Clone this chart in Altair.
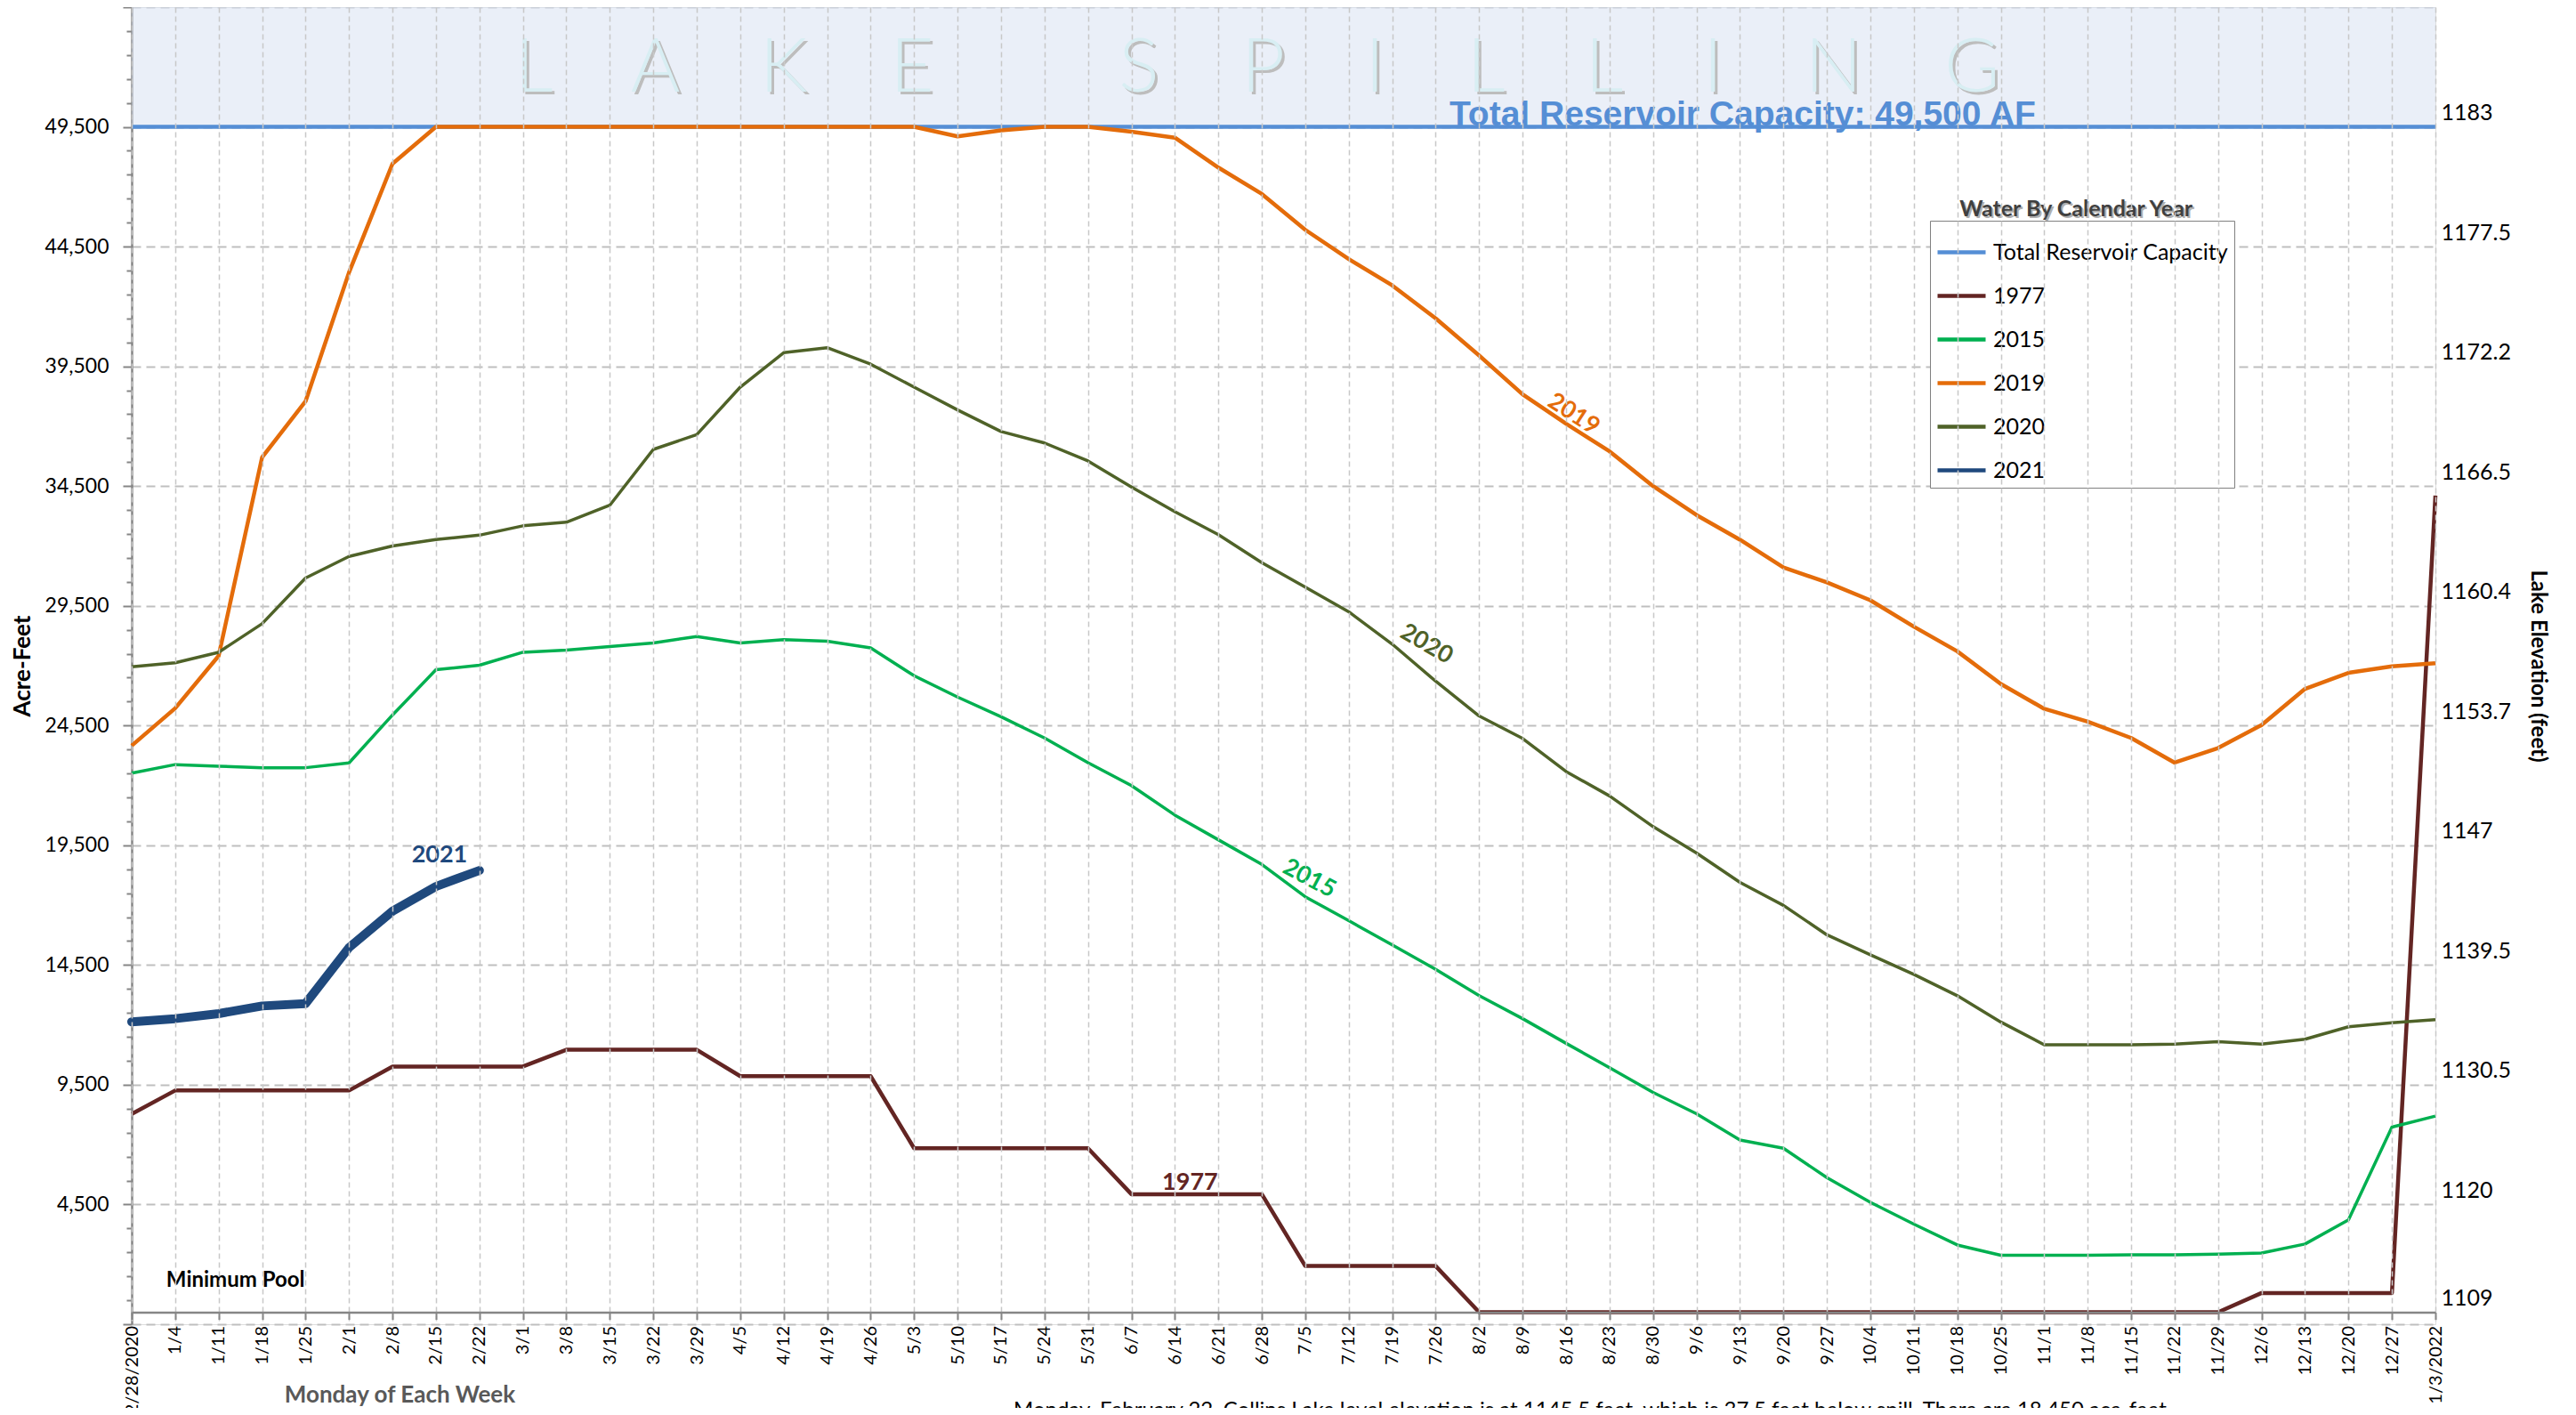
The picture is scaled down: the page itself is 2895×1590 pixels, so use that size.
import altair as alt
import pandas as pd

# ---------------- data ----------------
dates = ["12/28/2020", "1/4", "1/11", "1/18", "1/25", "2/1", "2/8", "2/15", "2/22", "3/1",
         "3/8", "3/15", "3/22", "3/29", "4/5", "4/12", "4/19", "4/26", "5/3", "5/10",
         "5/17", "5/24", "5/31", "6/7", "6/14", "6/21", "6/28", "7/5", "7/12", "7/19",
         "7/26", "8/2", "8/9", "8/16", "8/23", "8/30", "9/6", "9/13", "9/20", "9/27",
         "10/4", "10/11", "10/18", "10/25", "11/1", "11/8", "11/15", "11/22", "11/29", "12/6",
         "12/13", "12/20", "12/27", "1/3/2022"]

capacity_af = 49500

y1977 = [8280, 9260, 9260, 9260, 9260, 9260, 10260, 10260, 10260, 10260,
         10960, 10960, 10960, 10960, 9860, 9860, 9860, 9860, 6850, 6850,
         6850, 6850, 6850, 4930, 4930, 4930, 4930, 1930, 1930, 1930,
         1930, 0, 0, 0, 0, 0, 0, 0, 0, 0,
         0, 0, 0, 0, 0, 0, 0, 0, 0, 805,
         805, 805, 805, 34100]

y2015 = [22510, 22870, 22800, 22740, 22740, 22940, 24940, 26830, 27020, 27560,
         27650, 27800, 27950, 28220, 27950, 28090, 28020, 27740, 26580, 25690,
         24870, 23980, 22950, 21990, 20760, 19730, 18700, 17350, 16350, 15340,
         14320, 13220, 12260, 11230, 10210, 9180, 8290, 7190, 6850, 5620,
         4590, 3680, 2810, 2380, 2380, 2380, 2400, 2400, 2430, 2470,
         2850, 3860, 7730, 8190]

y2019 = [23660, 25220, 27410, 35700, 38040, 43420, 47960, 49500, 49500, 49500,
         49500, 49500, 49500, 49500, 49500, 49500, 49500, 49500, 49500, 49100,
         49350, 49500, 49500, 49300, 49050, 47800, 46700, 45200, 43980, 42880,
         41500, 39950, 38330, 37100, 35950, 34500, 33290, 32260, 31100, 30480,
         29730, 28630, 27600, 26240, 25200, 24660, 23980, 22950, 23560, 24520,
         26030, 26700, 26970, 27100]

y2020 = [26950, 27120, 27560, 28750, 30660, 31560, 32000, 32270, 32450, 32840,
         32990, 33700, 36030, 36650, 38630, 40070, 40280, 39590, 38630, 37680,
         36780, 36300, 35550, 34460, 33430, 32470, 31300, 30280, 29250, 27900,
         26350, 24900, 23960, 22580, 21560, 20280, 19180, 17950, 16990, 15760,
         14930, 14110, 13220, 12120, 11170, 11170, 11170, 11200, 11300, 11200,
         11400, 11920, 12090, 12220]

y2021 = [12130, 12260, 12470, 12790, 12890, 15230, 16750, 17780, 18450]

series_names = ["Total Reservoir Capacity", "1977", "2015", "2019", "2020", "2021"]

left_tick_values = list(range(-500, 54501, 1000))
elev_af = [0, 4500, 9500, 14500, 19500, 24500, 29500, 34500, 39500, 44500, 49500]
elev_labels = ["1109", "1120", "1130.5", "1139.5", "1147", "1153.7", "1160.4",
               "1166.5", "1172.2", "1177.5", "1183"]

banner_words = ["LAKE", "SPILLING"]
note_text = ("Monday, February 22, Collins Lake level elevation is at 1145.5 feet, "
             "which is 37.5 feet below spill. There are 18,450 ace-feet")

# annotation texts anchored on (week, acre-feet)
ann_text = ["2019", "2020", "2015", "1977", "2021", "Minimum Pool",
            "Total Reservoir Capacity: 49,500 AF", "Water By Calendar Year"]
ann_date = ["8/16", "7/26", "7/5", "6/14", "2/15", "1/11", "9/13", "11/8"]
ann_value = [37700, 27670, 18190, 5410, 19085, 1320, 49500, 46060]
banner_date = "6/28"
banner_value = 50970

# ---------------- styles ----------------
series_colors = ["#558ED5", "#632523", "#00B050", "#E46C0A", "#4F6228", "#1F497D"]
series_widths = [4.5, 4.5, 3.5, 4.5, 3.5, 10]

W, H = 2589, 1480
FONT = "Lato"

xscale = alt.Scale(type="point", domain=dates, padding=0)
yscale = alt.Scale(domain=[-500, 54500], nice=False, zero=False)
cscale = alt.Scale(domain=series_names, range=series_colors)

# ---------------- axes ----------------
major_test = "(datum.value - 4500) % 5000 == 0"
left_axis = alt.Axis(
    values=left_tick_values,
    labelExpr="datum.value >= 4500 && datum.value <= 49500 && " + major_test +
              " ? format(datum.value, ',') : ''",
    labelOverlap=False,
    title="Acre-Feet", titleFont=FONT, titleFontSize=26, titleFontWeight="bold",
    titleColor="black", titlePadding=12,
    labelFont=FONT, labelFontSize=23, labelColor="black", labelPadding=16,
    grid=True, gridDash=[10, 6], gridColor="#BFBFBF", gridWidth=2,
    gridOpacity={"condition": {"test": major_test, "value": 1}, "value": 0},
    tickSize={"condition": {"test": major_test, "value": 10}, "value": 6},
    tickColor="#868686", tickWidth=2, domainColor="#868686", domainWidth=2.5,
)

elev_expr = "[" + ",".join("'%s'" % s for s in elev_labels) + "]" \
            "[datum.value == 0 ? 0 : (datum.value + 500) / 5000]"
right_axis = alt.Axis(
    orient="right", values=elev_af, labelExpr=elev_expr, labelOverlap=False,
    grid=False, ticks=False, domain=False,
    labelFont=FONT, labelFontSize=25, labelColor="black", labelPadding=6,
    labelBaseline="alphabetic", labelOffset=-8,
    title="Lake Elevation (feet)", titleFont=FONT, titleFontSize=24,
    titleFontWeight="bold", titleColor="black", titlePadding=18,
)

x_axis = alt.Axis(
    title="Monday of Each Week", titleFont=FONT, titleFontSize=26, titleFontWeight="bold",
    titleColor="#595959", titleX=301, titleY=93, titleAlign="center", titleBaseline="middle",
    labelAngle=270, labelFont=FONT, labelFontSize=20, labelColor="black",
    labelPadding=7, labelOverlap=False,
    grid=True, gridDash=[6, 4], gridColor="#C8C8C8", gridWidth=1.5,
    tickSize=8, tickColor="#868686", tickWidth=2,
    domainColor="#868686", domainWidth=2.5, offset=-13.5,
)

legend = alt.Legend(
    title=None, orient="none", legendX=2021, legendY=240,
    strokeColor="#808080", fillColor="white", padding=6,
    symbolType="stroke", symbolSize=2916, symbolStrokeWidth=4.5, rowPadding=6,
    labelFont=FONT, labelFontSize=25, labelColor="black", labelOffset=6, labelLimit=500,
)

# ---------------- layers ----------------
band_df = pd.DataFrame({"x0": [dates[0]], "x1": [dates[-1]], "lo": [capacity_af], "hi": [54500]})
band = alt.Chart(band_df).mark_rect(fill="#D6E0F1", opacity=0.5).encode(
    x=alt.X("x0:O", scale=xscale, axis=x_axis), x2="x1:O",
    y=alt.Y("lo:Q", scale=yscale, axis=None), y2="hi:Q",
)


def line_layer(name, values, width, y_axis=None, leg=None, cap="butt"):
    n = len(values)
    df = pd.DataFrame({"date": dates[:n], "idx": list(range(n)),
                       "value": values, "series": [name] * n})
    return alt.Chart(df).mark_line(strokeWidth=width, strokeJoin="round", strokeCap=cap).encode(
        x=alt.X("date:O", scale=xscale, axis=x_axis),
        y=alt.Y("value:Q", scale=yscale, axis=y_axis),
        color=alt.Color("series:N", scale=cscale, legend=leg),
        order=alt.Order("idx:Q"),
    )


series_values = [[capacity_af] * len(dates), y1977, y2015, y2019, y2020, y2021]
lines = []
for k, (name, vals, w) in enumerate(zip(series_names, series_values, series_widths)):
    lines.append(line_layer(
        name, vals, w,
        y_axis=right_axis if k == 0 else (left_axis if k == 1 else None),
        leg=legend if k == 0 else None,
        cap="round" if name == "2021" else "butt",
    ))


def text_layer(text, date, value, **mark):
    df = pd.DataFrame({"date": [date], "value": [value], "t": [text]})
    return alt.Chart(df).mark_text(**mark).encode(
        x=alt.X("date:O", scale=xscale, axis=x_axis),
        y=alt.Y("value:Q", scale=yscale, axis=None),
        text="t:N",
    )


nb = "\u00a0"
banner = (nb * 9).join((nb * 4).join(list(w)) for w in banner_words)

texts = [
    text_layer(banner, banner_date, banner_value, font=FONT, fontSize=85, fontWeight=300,
               color="#BDBDBD", baseline="alphabetic", dx=-2, dy=3),
    text_layer(banner, banner_date, banner_value, font=FONT, fontSize=85, fontWeight=300,
               color="#D8EEF3", baseline="alphabetic", dx=-5),
]
styles = [
    dict(color="#E46C0A", fontSize=27, angle=33, dx=10),
    dict(color="#4F6228", fontSize=27, angle=30, dx=-12),
    dict(color="#00B050", fontSize=27, angle=28, dx=5),
    dict(color="#632523", fontSize=27, dx=17),
    dict(color="#1F497D", fontSize=27, dx=4),
    dict(color="black", fontSize=24, dx=19),
    dict(color="#558ED5", fontSize=39, font="Liberation Sans", baseline="alphabetic", dx=3, dy=-2),
    dict(color="#404040", fontSize=25, dx=-13),
]
for t, d, v, s in zip(ann_text, ann_date, ann_value, styles):
    st = dict(font=FONT, fontWeight="bold")
    st.update(s)
    if t == "Water By Calendar Year":
        texts.append(text_layer(t, d, v, font=FONT, fontWeight="bold", fontSize=25,
                                color="#B0B0B0", dx=-11, dy=2))
    texts.append(text_layer(t, d, v, **st))

chart = alt.layer(band, *lines, *texts).resolve_axis(
    y="independent"
).properties(
    width=W, height=H,
    autosize=alt.AutoSizeParams(type="none"),
    padding={"left": 140, "top": 0, "right": 150, "bottom": 94},
    title=alt.Title(note_text, orient="bottom", anchor="start", frame="group",
                    font=FONT, fontSize=24, fontWeight="normal", color="black",
                    baseline="top", offset=0, dx=991, dy=-27),
).configure_view(stroke=None).configure(font=FONT)

chart.save("out.html", embed_options={"renderer": "svg", "actions": False})
